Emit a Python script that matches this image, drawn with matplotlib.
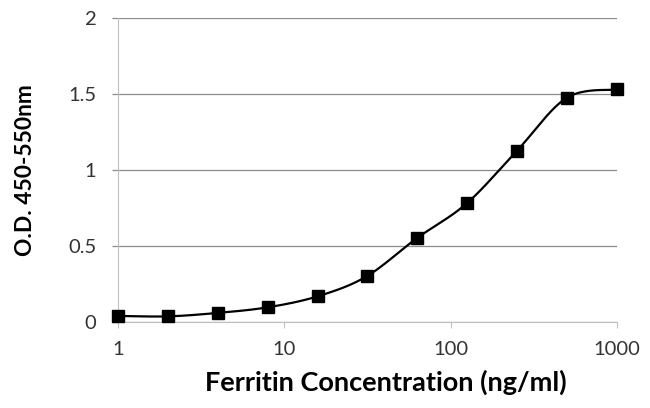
import numpy as np
import matplotlib

matplotlib.use("Agg")
import matplotlib.pyplot as plt

# ── data ───────────────────────────────────────────────────────────────────
conc = [1, 2, 4, 8, 16, 31.25, 62.5, 125, 250, 500, 1000]
od = [0.04, 0.037, 0.06, 0.097, 0.17, 0.30, 0.55, 0.78, 1.125, 1.475, 1.53]
x_ticks = [1, 10, 100, 1000]
x_ticklabels = ["1", "10", "100", "1000"]
y_ticks = [0, 0.5, 1, 1.5, 2]
y_ticklabels = ["0", "0.5", "1", "1.5", "2"]

FONT = ["Lato", "DejaVu Sans"]


def smooth_curve(xs, ys, n=40, tension=0.5):
    """Excel-style smoothed line (Catmull-Rom) through the points, in log-x."""
    lx = np.log10(xs)
    ys = np.asarray(ys, dtype=float)
    px = np.concatenate([[lx[0]], lx, [lx[-1]]])
    py = np.concatenate([[ys[0]], ys, [ys[-1]]])
    out_x, out_y = [], []
    t = np.linspace(0, 1, n)
    for i in range(1, len(px) - 2):
        x0, x1, x2, x3 = px[i - 1:i + 3]
        y0, y1, y2, y3 = py[i - 1:i + 3]
        # bezier control points
        c1x = x1 + (x2 - x0) * tension / 3
        c1y = y1 + (y2 - y0) * tension / 3
        c2x = x2 - (x3 - x1) * tension / 3
        c2y = y2 - (y3 - y1) * tension / 3
        bx = (1 - t) ** 3 * x1 + 3 * (1 - t) ** 2 * t * c1x + 3 * (1 - t) * t ** 2 * c2x + t ** 3 * x2
        by = (1 - t) ** 3 * y1 + 3 * (1 - t) ** 2 * t * c1y + 3 * (1 - t) * t ** 2 * c2y + t ** 3 * y2
        out_x.extend(bx)
        out_y.extend(by)
    return 10 ** np.array(out_x), np.array(out_y)


fig = plt.figure(figsize=(6.5, 4.08), dpi=100)
ax = fig.add_axes([0.1815, 0.2108, 0.7675, 0.7451])

cx, cy = smooth_curve(conc, od)
ax.plot(cx, cy, color="black", linewidth=1.6, zorder=3, clip_on=False)
ax.plot(conc, od, "s", color="black", markersize=8.5, zorder=4, clip_on=False)

ax.set_xscale("log")
ax.set_xlim(1, 1000)
ax.set_ylim(0, 2)
ax.set_xticks(x_ticks)
ax.set_xticklabels(x_ticklabels, fontfamily=FONT, fontsize=14.5, color="#333")
ax.xaxis.set_minor_locator(matplotlib.ticker.NullLocator())
ax.set_yticks(y_ticks)
ax.set_yticklabels(y_ticklabels, fontfamily=FONT, fontsize=14.5, color="#333")

ax.yaxis.grid(True, color="#8c8c8c", linewidth=0.9)
ax.set_axisbelow(True)
for side in ("top", "right"):
    ax.spines[side].set_visible(False)
ax.spines["left"].set_color("#c0c0c0")
ax.spines["bottom"].set_color("#c0c0c0")
ax.tick_params(axis="y", length=4.5, color="#8c8c8c", width=0.9, pad=11)
ax.tick_params(axis="x", length=4.5, color="#c0c0c0", direction="out", pad=9)

# axis titles placed like the original
fig.text(0.594, 0.0637, "Ferritin Concentration (ng/ml)", fontfamily=FONT,
         fontsize=19.5, fontweight="bold", ha="center", va="center")
fig.text(0.0385, 0.583, "O.D. 450-550nm", fontfamily=FONT, fontsize=16.4,
         fontweight="bold", ha="center", va="center", rotation=90)

fig.savefig("out.png", dpi=100, facecolor="white")
